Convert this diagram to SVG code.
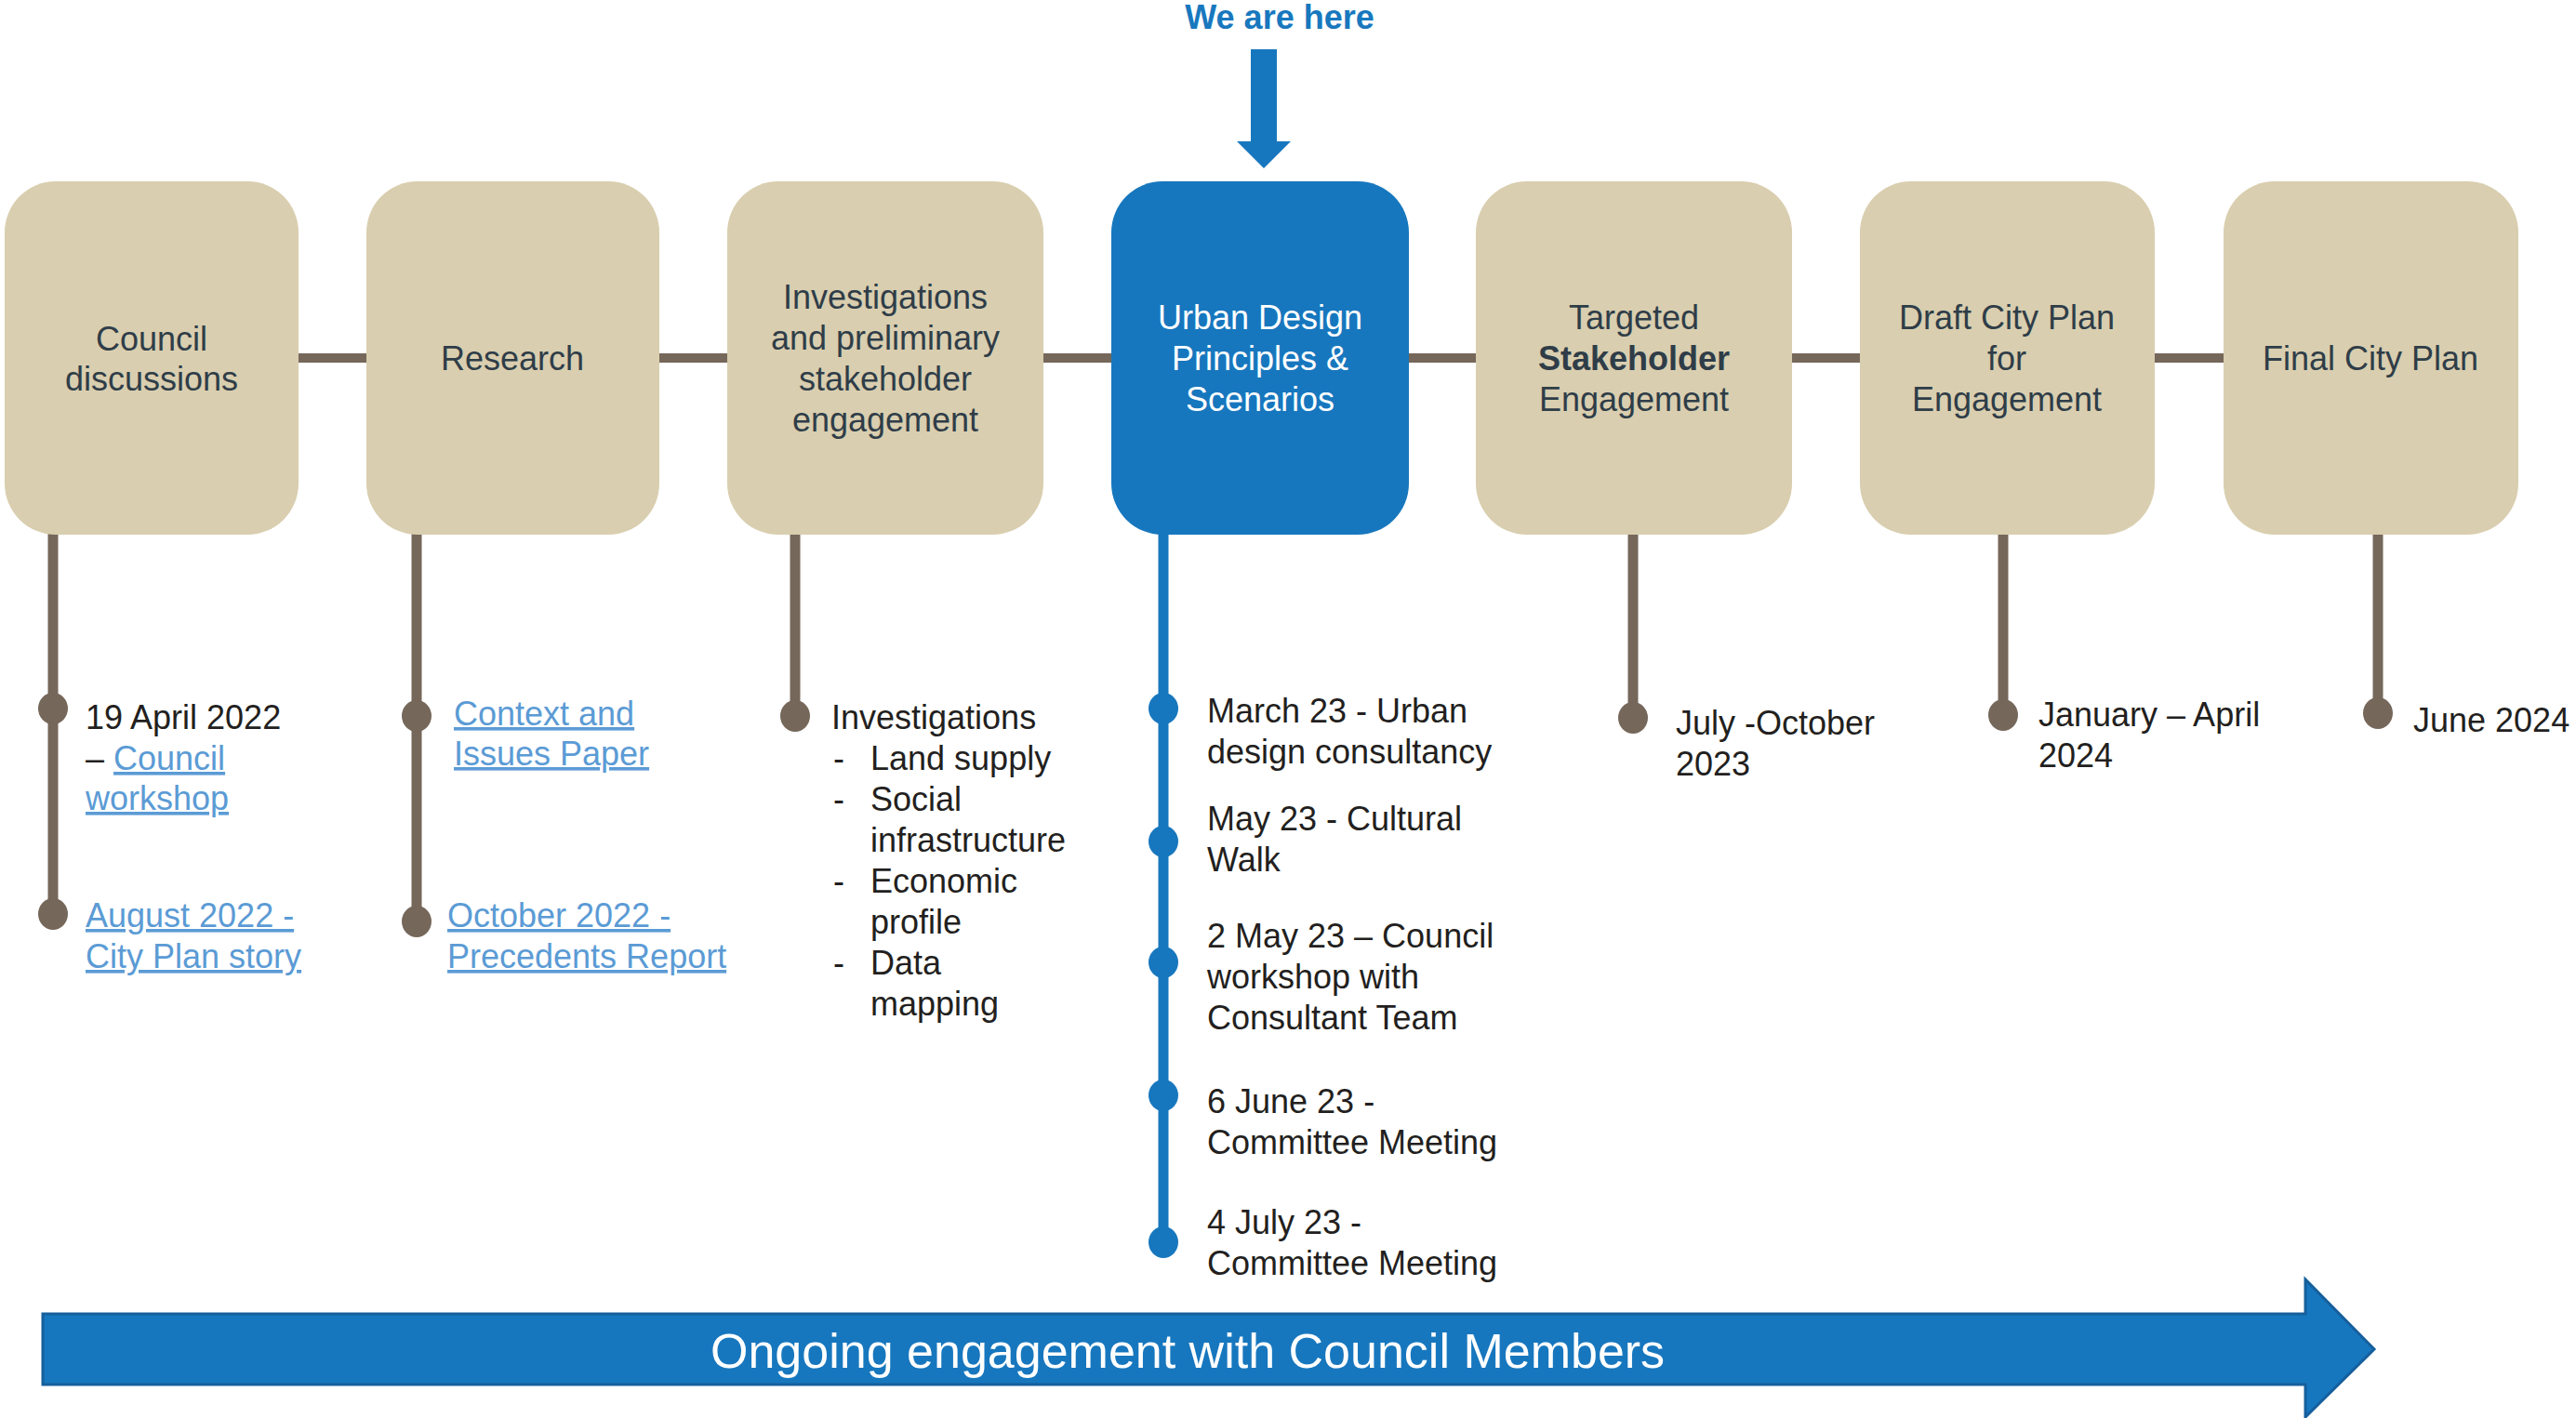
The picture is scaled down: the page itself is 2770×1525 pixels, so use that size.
<svg xmlns="http://www.w3.org/2000/svg" width="2770" height="1525" viewBox="0 0 2770 1525">
<style>
text{font-family:"Liberation Sans",Arial,sans-serif;font-size:36px}
.box{fill:#d9ceaf}
.cur{fill:#1777be}
.bt{fill:#2f3d48;text-anchor:middle}
.wt{fill:#ffffff;text-anchor:middle}
.nt{fill:#231f20}
.lk{fill:#5b9bd5;text-decoration:underline}
.hl{stroke:#75675a;stroke-width:10;fill:none}
.vl{stroke:#75675a;stroke-width:11;fill:none;stroke-linecap:round}
.vb{stroke:#1777be;stroke-width:11;fill:none}
.dot{fill:#75675a}
.bdot{fill:#1777be}
</style>
<rect width="2770" height="1525" fill="#ffffff"/>
<g id="connectors">
<line class="hl" x1="315" y1="385" x2="400" y2="385"/>
<line class="hl" x1="703" y1="385" x2="788" y2="385"/>
<line class="hl" x1="1116" y1="385" x2="1201" y2="385"/>
<line class="hl" x1="1509" y1="385" x2="1593" y2="385"/>
<line class="hl" x1="1921" y1="385" x2="2006" y2="385"/>
<line class="hl" x1="2311" y1="385" x2="2397" y2="385"/>
<line class="vl" x1="57" y1="570" x2="57" y2="983"/>
<line class="vl" x1="448" y1="570" x2="448" y2="991"/>
<line class="vl" x1="855" y1="570" x2="855" y2="770"/>
<line class="vb" x1="1251" y1="570" x2="1251" y2="1336"/>
<line class="vl" x1="1756" y1="570" x2="1756" y2="772"/>
<line class="vl" x1="2154" y1="570" x2="2154" y2="769"/>
<line class="vl" x1="2557" y1="570" x2="2557" y2="767"/>
<ellipse class="dot" cx="57" cy="762" rx="16" ry="17"/>
<ellipse class="dot" cx="57" cy="983" rx="16" ry="17"/>
<ellipse class="dot" cx="448" cy="770" rx="16" ry="17"/>
<ellipse class="dot" cx="448" cy="991" rx="16" ry="17"/>
<ellipse class="dot" cx="855" cy="770" rx="16" ry="17"/>
<ellipse class="bdot" cx="1251" cy="762" rx="16" ry="17"/>
<ellipse class="bdot" cx="1251" cy="905" rx="16" ry="17"/>
<ellipse class="bdot" cx="1251" cy="1035" rx="16" ry="17"/>
<ellipse class="bdot" cx="1251" cy="1178" rx="16" ry="17"/>
<ellipse class="bdot" cx="1251" cy="1336" rx="16" ry="17"/>
<ellipse class="dot" cx="1756" cy="772" rx="16" ry="17"/>
<ellipse class="dot" cx="2154" cy="769" rx="16" ry="17"/>
<ellipse class="dot" cx="2557" cy="767" rx="16" ry="17"/>
</g>
<g id="we-are-here">
<text x="1376" y="31" fill="#1878be" font-weight="bold" text-anchor="middle">We are here</text>
<polygon points="1345,53 1373,53 1373,152 1388,152 1359,181 1330,152 1345,152" fill="#1777be"/>
</g>
<g id="node-council">
<rect class="box" x="5" y="195" width="316" height="380" rx="55" ry="55"/>
<text class="bt" x="163" y="377">Council</text>
<text class="bt" x="163" y="420">discussions</text>
</g>
<g id="node-research">
<rect class="box" x="394" y="195" width="315" height="380" rx="55" ry="55"/>
<text class="bt" x="551" y="398">Research</text>
</g>
<g id="node-investigations">
<rect class="box" x="782" y="195" width="340" height="380" rx="55" ry="55"/>
<text class="bt" x="952" y="332">Investigations</text>
<text class="bt" x="952" y="376">and preliminary</text>
<text class="bt" x="952" y="420">stakeholder</text>
<text class="bt" x="952" y="464">engagement</text>
</g>
<g id="node-urban">
<rect class="cur" x="1195" y="195" width="320" height="380" rx="55" ry="55"/>
<text class="wt" x="1355" y="354">Urban Design</text>
<text class="wt" x="1355" y="398">Principles &amp;</text>
<text class="wt" x="1355" y="442">Scenarios</text>
</g>
<g id="node-targeted">
<rect class="box" x="1587" y="195" width="340" height="380" rx="55" ry="55"/>
<text class="bt" x="1757" y="354">Targeted</text>
<text class="bt" x="1757" y="398" font-weight="bold">Stakeholder</text>
<text class="bt" x="1757" y="442">Engagement</text>
</g>
<g id="node-draft">
<rect class="box" x="2000" y="195" width="317" height="380" rx="55" ry="55"/>
<text class="bt" x="2158" y="354">Draft City Plan</text>
<text class="bt" x="2158" y="398">for</text>
<text class="bt" x="2158" y="442">Engagement</text>
</g>
<g id="node-final">
<rect class="box" x="2391" y="195" width="317" height="380" rx="55" ry="55"/>
<text class="bt" x="2549" y="398">Final City Plan</text>
</g>
<g id="notes-council">
<text class="nt" x="92" y="784">19 April 2022</text>
<text class="nt" x="92" y="828">– <tspan class="lk">Council</tspan></text>
<text class="lk" x="92" y="871">workshop</text>
<text class="lk" x="92" y="997">August 2022 -</text>
<text class="lk" x="92" y="1041">City Plan story</text>
</g>
<g id="notes-research">
<text class="lk" x="488" y="780">Context and</text>
<text class="lk" x="488" y="823">Issues Paper</text>
<text class="lk" x="481" y="997">October 2022 -</text>
<text class="lk" x="481" y="1041">Precedents Report</text>
</g>
<g id="notes-investigations">
<text class="nt" x="894" y="784">Investigations</text>
<text class="nt" x="896" y="828">-</text><text class="nt" x="936" y="828">Land supply</text>
<text class="nt" x="896" y="872">-</text><text class="nt" x="936" y="872">Social</text>
<text class="nt" x="936" y="916">infrastructure</text>
<text class="nt" x="896" y="960">-</text><text class="nt" x="936" y="960">Economic</text>
<text class="nt" x="936" y="1004">profile</text>
<text class="nt" x="896" y="1048">-</text><text class="nt" x="936" y="1048">Data</text>
<text class="nt" x="936" y="1092">mapping</text>
</g>
<g id="notes-urban">
<text class="nt" x="1298" y="777">March 23 - Urban</text>
<text class="nt" x="1298" y="821">design consultancy</text>
<text class="nt" x="1298" y="893">May 23 - Cultural</text>
<text class="nt" x="1298" y="937">Walk</text>
<text class="nt" x="1298" y="1019">2 May 23 – Council</text>
<text class="nt" x="1298" y="1063">workshop with</text>
<text class="nt" x="1298" y="1107">Consultant Team</text>
<text class="nt" x="1298" y="1197">6 June 23 -</text>
<text class="nt" x="1298" y="1241">Committee Meeting</text>
<text class="nt" x="1298" y="1327">4 July 23 -</text>
<text class="nt" x="1298" y="1371">Committee Meeting</text>
</g>
<g id="notes-targeted">
<text class="nt" x="1802" y="790">July -October</text>
<text class="nt" x="1802" y="834">2023</text>
</g>
<g id="notes-draft">
<text class="nt" x="2192" y="781">January – April</text>
<text class="nt" x="2192" y="825">2024</text>
</g>
<g id="notes-final">
<text class="nt" x="2595" y="787">June 2024</text>
</g>
<g id="ongoing-bar">
<polygon points="46,1413 2479,1413 2479,1376 2553,1451 2479,1524 2479,1489 46,1489" fill="#1777be" stroke="#165f9c" stroke-width="3" stroke-linejoin="miter"/>
<text x="764" y="1471" fill="#ffffff" style="font-size:52px">Ongoing engagement with Council Members</text>
</g>
</svg>
